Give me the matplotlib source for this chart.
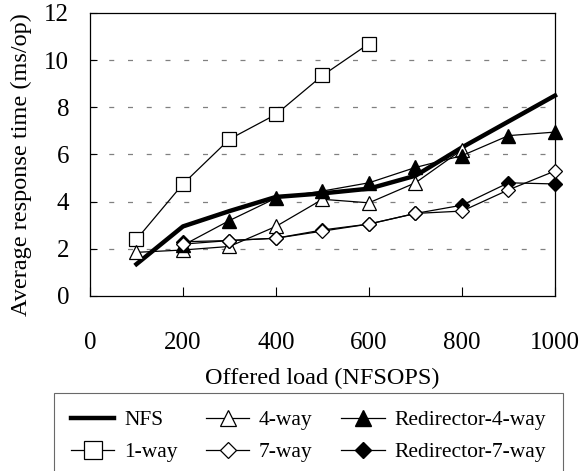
import matplotlib
matplotlib.use("Agg")
import matplotlib.pyplot as plt

plt.rcParams['font.family'] = ['Liberation Serif', 'DejaVu Serif']

loads = [100, 200, 300, 400, 500, 600, 700, 800, 900, 1000]
nfs = [1.35, 2.95, 3.6, 4.2, 4.35, 4.55, 5.1, 6.3, 7.4, 8.5]
one_way_x = [100, 200, 300, 400, 500, 600]
one_way = [2.4, 4.75, 6.65, 7.7, 9.35, 10.7]
four_way_x = [100, 200, 300, 400, 500, 600, 700, 800]
four_way = [1.85, 1.95, 2.1, 2.95, 4.1, 3.95, 4.8, 6.2]
seven_way_x = [200, 300, 400, 500, 600, 700, 800, 900, 1000]
seven_way = [2.2, 2.35, 2.45, 2.75, 3.05, 3.5, 3.6, 4.5, 5.3]
red4_x = [200, 300, 400, 500, 600, 700, 800, 900, 1000]
red4 = [2.15, 3.2, 4.15, 4.45, 4.8, 5.45, 5.95, 6.8, 6.95]
red7_x = [200, 300, 400, 500, 600, 700, 800, 900, 1000]
red7 = [2.3, 2.35, 2.45, 2.8, 3.05, 3.5, 3.85, 4.8, 4.75]

x_ticks = [0, 200, 400, 600, 800, 1000]
y_ticks = [0, 2, 4, 6, 8, 10, 12]

fig = plt.figure(figsize=(5.85, 4.71), dpi=100)
ax = fig.add_axes([0.1538, 0.3716, 0.7949, 0.6008])

lw = 0.9
ax.plot(loads, nfs, color='black', lw=3.2, label='NFS', zorder=3, clip_on=False)
ax.plot(one_way_x, one_way, color='black', lw=lw, marker='s', ms=10.5,
        mfc='white', mec='black', mew=lw, label='1-way', zorder=4, clip_on=False)
ax.plot(four_way_x, four_way, color='black', lw=lw, marker='^', ms=10,
        mfc='white', mec='black', mew=lw, label='4-way', zorder=4, clip_on=False)
ax.plot(seven_way_x, seven_way, color='black', lw=lw, marker='D', ms=7,
        mfc='white', mec='black', mew=lw, label='7-way', zorder=5, clip_on=False)
ax.plot(red4_x, red4, color='black', lw=lw, marker='^', ms=10,
        mfc='black', mec='black', label='Redirector-4-way', zorder=4, clip_on=False)
ax.plot(red7_x, red7, color='black', lw=lw, marker='D', ms=7,
        mfc='black', mec='black', label='Redirector-7-way', zorder=4, clip_on=False)

ax.set_xlim(0, 1000)
ax.set_ylim(0, 12)
ax.set_xticks(x_ticks)
ax.set_yticks(y_ticks)
ax.tick_params(axis='both', direction='in', labelsize=18, width=0.8)
ax.tick_params(axis='x', length=6.5, pad=26)
ax.tick_params(axis='y', length=5, pad=15)
for s in ax.spines.values():
    s.set_linewidth(0.9)

for y in y_ticks[1:-1]:
    ax.axhline(y, color='#808080', lw=0.9, dashes=(4, 11), zorder=1)

ax.set_xlabel('Offered load (NFSOPS)', fontsize=17.5, labelpad=10)
ax.set_ylabel('Average response time (ms/op)', fontsize=17.5)
ax.yaxis.set_label_coords(-0.125, 0.463)

leg = fig.legend(loc='upper left', bbox_to_anchor=(0.0923, -0.2, 0.870, 0.3656),
                 mode='expand', ncol=3, fontsize=15.5, frameon=True,
                 fancybox=False, edgecolor='#444444', handlelength=2.0,
                 handletextpad=0.45, columnspacing=0.8, borderpad=0.8,
                 labelspacing=0.55, borderaxespad=0, markerscale=1.2)
leg.get_frame().set_linewidth(0.8)

fig.savefig('out.png', dpi=100)
